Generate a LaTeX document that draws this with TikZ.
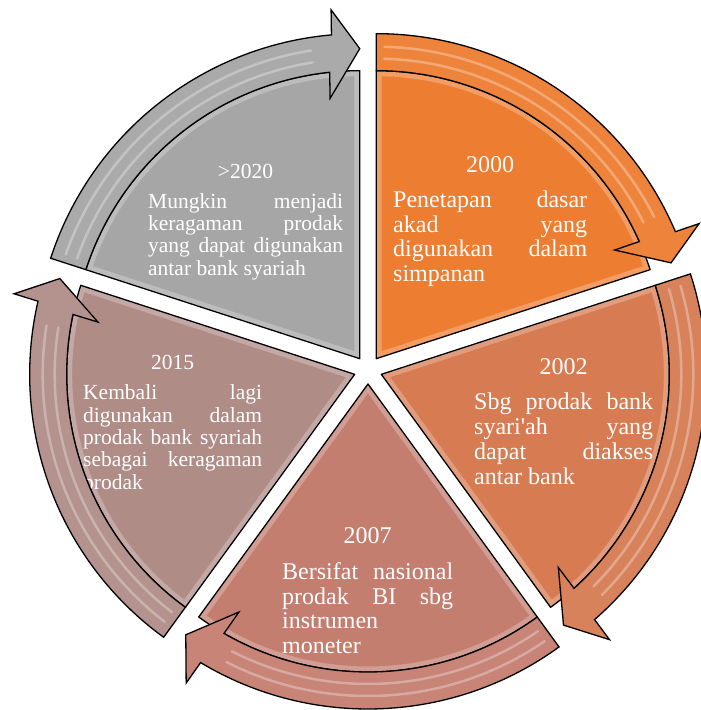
\documentclass[tikz,border=0pt]{standalone}
\usepackage{fontspec}
\setmainfont{Liberation Serif}
\definecolor{cOra}{HTML}{ED7D31}
\definecolor{cTwo}{HTML}{D67B52}
\definecolor{cSev}{HTML}{C47E70}
\definecolor{cFif}{HTML}{B08C87}
\definecolor{cGry}{HTML}{A6A6A6}
\newcommand\mysegment[2]{%
  \pgfmathsetmacro\sa{#1+36}\pgfmathsetmacro\sb{#1-36}%
  \begin{scope}[shift={(#1:14)}]
    \fill[#2] (0,0) -- (\sa:288) arc[start angle=\sa, end angle=\sb, radius=288] -- cycle;
    \begin{scope}
      \clip (0,0) -- (\sa:288) arc[start angle=\sa, end angle=\sb, radius=288] -- cycle;
      \draw[white, opacity=0.25, line width=11pt, line join=round] (0,0) -- (\sa:288) arc[start angle=\sa, end angle=\sb, radius=288] -- cycle;
      \draw[white, opacity=0.3, line width=1.6pt] (\sa:9) -- (\sa:280);
    \end{scope}
    \draw[seg] (0,0) -- (\sa:288) arc[start angle=\sa, end angle=\sb, radius=288] -- cycle;
  \end{scope}}
\newcommand\myarrow[2]{%
  \pgfmathsetmacro\sa{#1+36}\pgfmathsetmacro\sb{#1-36}%
  \pgfmathsetmacro\ea{\sb+5}\pgfmathsetmacro\eb{\sb+4.7}%
  \pgfmathsetmacro\ec{\sb+6.5}\pgfmathsetmacro\ed{\sb+6}%
  \pgfmathsetmacro\ga{\sa-1.5}\pgfmathsetmacro\gb{\sb+9}%
  \begin{scope}[shift={(#1:14)}]
    \fill[#2!95!white] (\sa:325) arc[start angle=\sa, end angle=\ea, radius=325] -- (\eb:350) -- (\sb:310) -- (\ec:262) -- (\ed:288) arc[start angle=\ed, end angle=\sa, radius=288] -- cycle;
    \draw[gloss] (\ga:300) arc[start angle=\ga, end angle=\gb, radius=300];
    \draw[gloss] (\ga:312) arc[start angle=\ga, end angle=\gb, radius=312];
    \draw[arr] (\sa:325) arc[start angle=\sa, end angle=\ea, radius=325] -- (\eb:350) -- (\sb:310) -- (\ec:262) -- (\ed:288) arc[start angle=\ed, end angle=\sa, radius=288] -- cycle;
  \end{scope}}
\newcommand\jl[1]{\makebox[\linewidth][s]{#1}\\}
\begin{document}
\begin{tikzpicture}[x=1pt,y=1pt,
  seg/.style={draw=black, line width=1.3pt, line join=round},
  arr/.style={draw=black, line width=1.3pt, line join=miter},
  gloss/.style={draw=white, line width=2.5pt, opacity=0.3, line cap=round},
  body/.style={text=white, inner sep=0pt, anchor=base west},
  ttl/.style={text=white, inner sep=0pt, anchor=base}]
\useasboundingbox (0,0) rectangle (701,710);
\clip (0,0) rectangle (701,710);
\fill[white] (0,0) rectangle (701,710);
\begin{scope}[shift={(368,340)}]
  \mysegment{54}{cOra}
  \mysegment{-18}{cTwo}
  \mysegment{-90}{cSev}
  \mysegment{-162}{cFif}
  \mysegment{126}{cGry}
\end{scope}
% texts
\node[ttl] (h1) at (490,537.7) {\fontsize{24}{24.8}\selectfont 2000};
\node[body] (b1) at (393,502.7) {\parbox[t]{194pt}{\fontsize{24}{24.8}\selectfont
  \jl{Penetapan dasar}\jl{akad yang}\jl{digunakan dalam}simpanan}};
\node[ttl] (h2) at (563.5,335) {\fontsize{24}{24.8}\selectfont 2002};
\node[body] (b2) at (474,300) {\parbox[t]{179pt}{\fontsize{24}{24.8}\selectfont
  \jl{Sbg prodak bank}\jl{syari\textquotesingle ah yang}\jl{dapat diakses}antar bank}};
\node[ttl] (h3) at (367.5,166) {\fontsize{24}{24.8}\selectfont 2007};
\node[body] (b3) at (282,130.7) {\parbox[t]{171pt}{\fontsize{24}{24.8}\selectfont
  \jl{Bersifat nasional}\jl{prodak BI sbg}instrumen\\moneter}};
\node[ttl] (h4) at (172.5,340) {\fontsize{21.5}{22.3}\selectfont 2015};
\node[body] (b4) at (83,310) {\parbox[t]{179pt}{\fontsize{21.5}{22.3}\selectfont
  \jl{Kembali lagi}\jl{digunakan dalam}\jl{prodak bank syariah}\jl{sebagai keragaman}prodak}};
\node[ttl] (h5) at (245.5,531.7) {\fontsize{21.5}{22.3}\selectfont >2020};
\node[body] (b5) at (148,501.7) {\parbox[t]{195pt}{\fontsize{21.5}{22.3}\selectfont
  \jl{Mungkin menjadi}\jl{keragaman prodak}\jl{yang dapat digunakan}antar bank syariah}};
\begin{scope}[shift={(368,340)}]
  \myarrow{54}{cOra}
  \myarrow{-18}{cTwo}
  \myarrow{-90}{cSev}
  \myarrow{-162}{cFif}
  \myarrow{126}{cGry}
\end{scope}
\end{tikzpicture}
\end{document}
